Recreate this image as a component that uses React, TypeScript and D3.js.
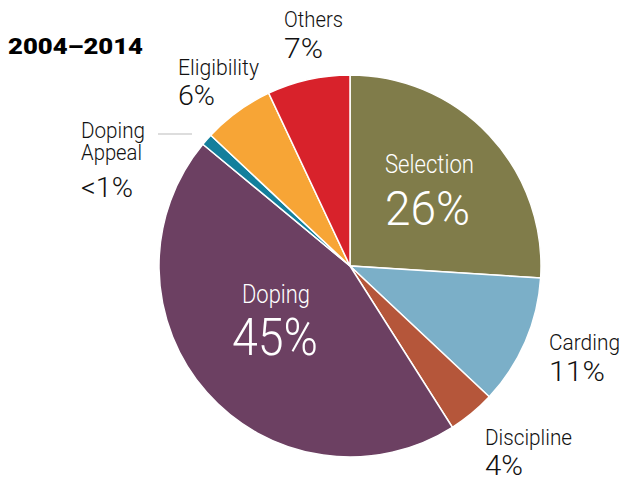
import React from "react";
import * as d3 from "d3";

const categories = ["Selection", "Carding", "Discipline", "Doping", "Doping Appeal", "Eligibility", "Others"];
const values = [26, 11, 4, 45, 1, 6, 7];
const valueLabels = ["26%", "11%", "4%", "45%", "<1%", "6%", "7%"];
const colors = ["#807C4A", "#7BAFC8", "#B5563A", "#6C4062", "#137F9C", "#F7A536", "#D8222B"];
const title = "2004–2014";

const W = 621;
const H = 477;
const cx = 350;
const cy = 266;
const R = 191;
const FONT = "Roboto, 'Liberation Sans', sans-serif";

type TProps = { x: number; y: number; size: number; w: number; children: React.ReactNode };
function T({ x, y, size, w, children }: TProps) {
  return (
    <text x={x} y={y} fontSize={size} textLength={w} lengthAdjust="spacingAndGlyphs">
      {children}
    </text>
  );
}

export default function App() {
  const pie = d3.pie<number>().sort(null).value((d) => d);
  const arcs = pie(values);
  const arc = d3.arc<d3.PieArcDatum<number>>().innerRadius(0).outerRadius(R);

  return (
    <svg width={W} height={H} style={{ position: "absolute", left: 0, top: 0 }}>
      <rect width={W} height={H} fill="#fff" />
      <text x={8} y={54} fontFamily="Roboto, 'DejaVu Sans', sans-serif" fontWeight={900} fontSize={22} textLength={135} lengthAdjust="spacingAndGlyphs" fill="#000">{title}</text>
      <g transform={`translate(${cx},${cy})`}>
        {arcs.map((a, i) => (
          <path key={categories[i]} d={arc(a) || ""} fill={colors[i]} stroke="#fff" strokeWidth={1.5} />
        ))}
      </g>
      {/* Inner labels */}
      <g fontFamily={FONT} fill="#fff" fontWeight={300}>
        <T x={385} y={173} size={25} w={89}>{categories[0]}</T>
        <T x={385} y={225} size={49} w={85}>{valueLabels[0]}</T>
        <T x={242} y={303} size={25} w={68}>{categories[3]}</T>
        <T x={232} y={355} size={51} w={86}>{valueLabels[3]}</T>
      </g>
      {/* Outer labels */}
      <g fontFamily={FONT} fill="#111" fontWeight={300}>
        <T x={284} y={27} size={22} w={59}>{categories[6]}</T>
        <T x={284} y={58} size={28} w={39}>{valueLabels[6]}</T>
        <T x={178} y={75} size={22} w={81}>{categories[5]}</T>
        <T x={178} y={105} size={28} w={37}>{valueLabels[5]}</T>
        <T x={81} y={138} size={22} w={64}>Doping</T>
        <T x={81} y={160} size={22} w={61}>Appeal</T>
        <T x={81} y={197} size={28} w={52}>{valueLabels[4]}</T>
        <T x={549} y={350} size={22} w={71}>{categories[1]}</T>
        <T x={549} y={381} size={28} w={56}>{valueLabels[1]}</T>
        <T x={485} y={445} size={22} w={87}>{categories[2]}</T>
        <T x={485} y={475} size={28} w={38}>{valueLabels[2]}</T>
      </g>
      <line x1={158} x2={192} y1={134} y2={134} stroke="#bbb" strokeWidth={1.2} />
    </svg>
  );
}
